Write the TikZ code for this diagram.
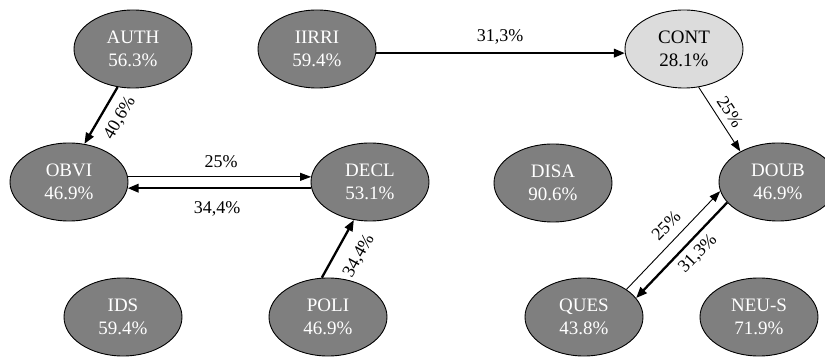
\documentclass[tikz,border=0pt]{standalone}
\usepackage{fontspec}
\setmainfont{Liberation Serif}
\usetikzlibrary{shapes.geometric,arrows.meta}
\definecolor{nodegray}{HTML}{7F7F7F}
\definecolor{lightfill}{HTML}{DCDCDC}
\begin{document}
\begin{tikzpicture}[x=1pt,y=-1pt,
  state/.style={ellipse, draw=black, line width=0.9pt, fill=nodegray, text=white,
    minimum width=118pt, minimum height=78pt, inner sep=0pt, align=center,
    font=\fontsize{19}{22.5}\selectfont},
  lightstate/.style={state, fill=lightfill, text=black},
  weakarrow/.style={line width=0.9pt, -{Triangle[length=11pt,width=8pt]}},
  strongarrow/.style={line width=2.3pt, -{Triangle[length=11pt,width=8.5pt]}},
  lbl/.style={font=\fontsize{18}{20}\selectfont, inner sep=0pt}]
\useasboundingbox (0,0) rectangle (825,358);
% nodes
\node[state] (AUTH) at (133,49) {AUTH\\56.3\%};
\node[state] (IIRRI) at (317,49) {IIRRI\\59.4\%};
\node[lightstate] (CONT) at (684,49) {CONT\\28.1\%};
\node[state] (OBVI) at (69,182) {OBVI\\46.9\%};
\node[state] (DECL) at (370,182) {DECL\\53.1\%};
\node[state] (DISA) at (553,183) {DISA\\90.6\%};
\node[state] (DOUB) at (778,182) {DOUB\\46.9\%};
\node[state] (IDS) at (123,317) {IDS\\59.4\%};
\node[state] (POLI) at (328,317) {POLI\\46.9\%};
\node[state] (QUES) at (584,317) {QUES\\43.8\%};
\node[state] (NEUS) at (759,317) {NEU-S\\71.9\%};
% connectors
\draw[strongarrow] (AUTH.-112) -- (OBVI.68);
\draw[strongarrow] (IIRRI.-4) -- (CONT.184);
\draw[weakarrow] (CONT.-69) -- (DOUB.141);
\draw[weakarrow] (OBVI.5) -- (DECL.175);
\draw[strongarrow] (DECL.186) -- (OBVI.-6);
\draw[strongarrow] (POLI.99) -- (DECL.-113);
\draw[weakarrow] (QUES.33) -- (DOUB.189);
\draw[strongarrow] (DOUB.202) -- (QUES.20);
% labels
\node[lbl, rotate=60] (l1) at (120,118) {40,6\%};
\node[lbl] (l2) at (500,37) {31,3\%};
\node[lbl, rotate=-57] (l3) at (730,112) {25\%};
\node[lbl] (l4) at (221,162) {25\%};
\node[lbl] (l5) at (217,209) {34,4\%};
\node[lbl, rotate=61] (l6) at (359,256) {34,4\%};
\node[lbl, rotate=46] (l7) at (666,226) {25\%};
\node[lbl, rotate=46] (l8) at (698,254) {31,3\%};
\end{tikzpicture}
\end{document}
